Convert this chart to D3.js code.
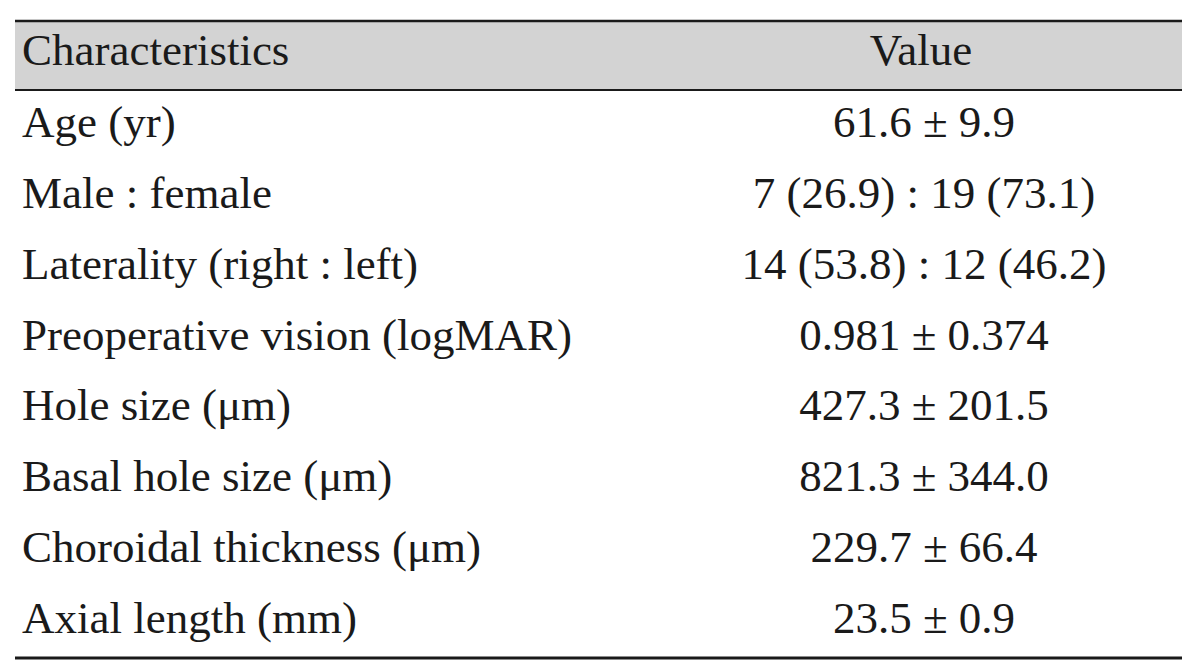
<!DOCTYPE html>
<html>
<head>
<meta charset="utf-8">
<script src="https://cdn.jsdelivr.net/npm/d3@7/dist/d3.min.js"></script>
<style>
  html, body { margin: 0; padding: 0; background: #ffffff; }
  svg { display: block; }
</style>
</head>
<body>
<svg id="chart" width="1200" height="672"></svg>
<script>
const headers = ["Characteristics", "Value"];
const characteristics = [
  "Age (yr)",
  "Male : female",
  "Laterality (right : left)",
  "Preoperative vision (logMAR)",
  "Hole size (\u03bcm)",
  "Basal hole size (\u03bcm)",
  "Choroidal thickness (\u03bcm)",
  "Axial length (mm)"
];
const values = [
  "61.6 \u00b1 9.9",
  "7 (26.9) : 19 (73.1)",
  "14 (53.8) : 12 (46.2)",
  "0.981 \u00b1 0.374",
  "427.3 \u00b1 201.5",
  "821.3 \u00b1 344.0",
  "229.7 \u00b1 66.4",
  "23.5 \u00b1 0.9"
];

const svg = d3.select("#chart");
const left = 15, right = 1182;
const topY = 21, headBottom = 90, bottomY = 658;
const font = "'Liberation Serif', 'Times New Roman', serif";
const fs = 45;
const textColor = "#1a1a1a";
const valueCenter = 924;

svg.append("rect")
  .attr("x", left).attr("y", topY)
  .attr("width", right - left).attr("height", headBottom - topY)
  .attr("fill", "#d3d3d3");

svg.append("line").attr("x1", left).attr("x2", right).attr("y1", topY).attr("y2", topY)
  .attr("stroke", "#1a1a1a").attr("stroke-width", 2.5);
svg.append("line").attr("x1", left).attr("x2", right).attr("y1", headBottom).attr("y2", headBottom)
  .attr("stroke", "#1a1a1a").attr("stroke-width", 1.8);
svg.append("line").attr("x1", left).attr("x2", right).attr("y1", bottomY).attr("y2", bottomY)
  .attr("stroke", "#1a1a1a").attr("stroke-width", 3);

svg.append("text").attr("x", 22).attr("y", 65)
  .attr("font-family", font).attr("font-size", fs).attr("fill", textColor)
  .text(headers[0]);
svg.append("text").attr("x", 921).attr("y", 65)
  .attr("text-anchor", "middle")
  .attr("font-family", font).attr("font-size", fs).attr("fill", textColor)
  .text(headers[1]);

const y = d3.scalePoint()
  .domain(d3.range(characteristics.length))
  .range([137, 633]);

const rows = svg.append("g").selectAll("g")
  .data(characteristics.map((c, i) => ({c, v: values[i], i})))
  .join("g");

rows.append("text")
  .attr("x", 22).attr("y", d => y(d.i))
  .attr("font-family", font).attr("font-size", fs).attr("fill", textColor)
  .text(d => d.c);

rows.append("text")
  .attr("x", valueCenter).attr("y", d => y(d.i))
  .attr("text-anchor", "middle")
  .attr("font-family", font).attr("font-size", fs).attr("fill", textColor)
  .text(d => d.v);
</script>
</body>
</html>
